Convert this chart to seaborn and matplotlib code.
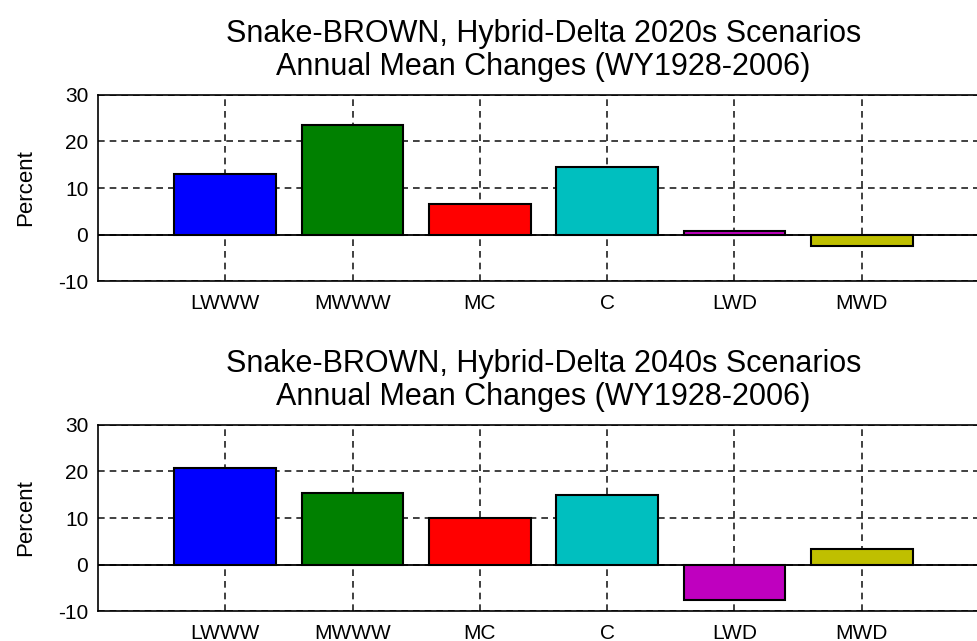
import pandas as pd
import matplotlib.pyplot as plt
import seaborn as sns

scenarios = ["LWWW", "MWWW", "MC", "C", "LWD", "MWD"]
bar_colors = ["#0000ff", "#008000", "#ff0000", "#00bfbf", "#bf00bf", "#bfbf00"]
change_2020s = [12.9, 23.6, 6.5, 14.4, 0.8, -2.5]
change_2040s = [20.8, 15.3, 9.9, 14.9, -7.5, 3.3]
titles = [
    "Snake-BROWN, Hybrid-Delta 2020s Scenarios\nAnnual Mean Changes (WY1928-2006)",
    "Snake-BROWN, Hybrid-Delta 2040s Scenarios\nAnnual Mean Changes (WY1928-2006)",
]


def draw_panel(ax, values, title):
    df = pd.DataFrame({"scenario": scenarios, "change": values})
    sns.barplot(data=df, x="scenario", y="change", hue="scenario",
                palette=bar_colors, saturation=1, width=0.8, edgecolor="black",
                linewidth=1.5, legend=False, ax=ax, zorder=3)
    ax.axhline(0, color="black", linewidth=1.3, zorder=4)
    ax.set_xlim(-1, 6)
    ax.set_ylim(-10, 30)
    ax.set_yticks([-10, 0, 10, 20, 30])
    ax.grid(True, color="#202020", linestyle=(0, (4, 3)), linewidth=1.2, zorder=0)
    ax.set_axisbelow(True)
    ax.tick_params(direction="in", length=6, width=1, colors="black")
    ax.tick_params(axis="x", labelsize=15, pad=9)
    ax.tick_params(axis="y", labelsize=15, pad=7)
    ax.set_xlabel("")
    ax.set_ylabel("Percent", fontsize=16, color="black", labelpad=16)
    ax.set_title(title, fontsize=22, linespacing=1.15, pad=14, color="black")
    for side in ax.spines.values():
        side.set_color("black")
        side.set_linewidth(1.2)


def main():
    sns.set_theme(style="white")
    plt.rcParams["font.family"] = ["Liberation Sans", "DejaVu Sans"]
    plt.rcParams["axes.unicode_minus"] = False

    fig = plt.figure(figsize=(9.77, 6.41), dpi=100)
    w = 891 / 977
    ax1 = fig.add_axes([98 / 977, 1 - 281.3 / 641, w, 186.6 / 641])
    ax2 = fig.add_axes([98 / 977, 1 - 611.3 / 641, w, 186.6 / 641])

    draw_panel(ax1, change_2020s, titles[0])
    draw_panel(ax2, change_2040s, titles[1])

    fig.savefig("out.png", dpi=100)
    plt.close(fig)


if __name__ == "__main__":
    main()
